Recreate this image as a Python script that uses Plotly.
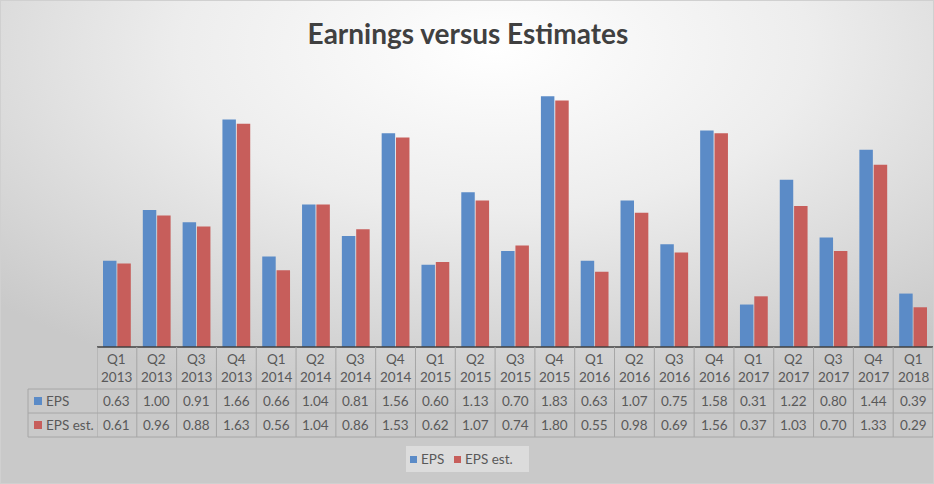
import base64
import plotly.graph_objects as go

quarters = ["Q1", "Q2", "Q3", "Q4", "Q1", "Q2", "Q3", "Q4", "Q1", "Q2", "Q3", "Q4",
            "Q1", "Q2", "Q3", "Q4", "Q1", "Q2", "Q3", "Q4", "Q1"]
years = ["2013", "2013", "2013", "2013", "2014", "2014", "2014", "2014", "2015", "2015", "2015", "2015",
         "2016", "2016", "2016", "2016", "2017", "2017", "2017", "2017", "2018"]
eps = [0.63, 1.00, 0.91, 1.66, 0.66, 1.04, 0.81, 1.56, 0.60, 1.13, 0.70, 1.83,
       0.63, 1.07, 0.75, 1.58, 0.31, 1.22, 0.80, 1.44, 0.39]
eps_est = [0.61, 0.96, 0.88, 1.63, 0.56, 1.04, 0.86, 1.53, 0.62, 1.07, 0.74, 1.80,
           0.55, 0.98, 0.69, 1.56, 0.37, 1.03, 0.70, 1.33, 0.29]
series_names = ["EPS", "EPS est."]

BLUE = "#5B8BC7"
RED = "#C75E5B"
TXT = "#595959"
GRID = "#A6A6A6"
FONT = "Lato"
FS = 13.5

W, H = 934, 484
L, R, T, B = 97, 1, 73, 137
PW, PH = W - L - R, H - T - B
n = len(quarters)
cats = list(range(n))

def py(p):
    return (H - B - p) / PH

def px(p):
    return (p - L) / PW

svg = f"""<svg xmlns='http://www.w3.org/2000/svg' width='{W}' height='{H}'>
<defs><radialGradient id='g' cx='0.53' cy='0.1' r='0.75' gradientUnits='objectBoundingBox'>
<stop offset='0' stop-color='#FFFFFF'/><stop offset='0.45' stop-color='#EDEDED'/>
<stop offset='1' stop-color='#C9C9C9'/></radialGradient></defs>
<rect width='{W}' height='{H}' fill='url(#g)'/>
<rect x='0.5' y='0.5' width='{W-1}' height='{H-1}' fill='none' stroke='#D0D0D0'/>
</svg>"""
bg = "data:image/svg+xml;base64," + base64.b64encode(svg.encode()).decode()

fig = go.Figure()
fig.add_trace(go.Bar(x=cats, y=eps, name=series_names[0], marker=dict(color=BLUE, line=dict(width=0))))
fig.add_trace(go.Bar(x=cats, y=eps_est, name=series_names[1], marker=dict(color=RED, line=dict(width=0))))

shapes = []
annotations = []

y_top, y_h1, y_h2, y_h3 = 347, 389, 413, 437
x_lab = 28

def txt(x, y, s, xref="x", xanchor="center"):
    return dict(x=x, y=y, xref=xref, yref="paper", text=s, showarrow=False,
                xanchor=xanchor, yanchor="middle", font=dict(family=FONT, size=FS, color=TXT))

# horizontal lines
shapes.append(dict(type="line", xref="paper", yref="paper", x0=0, x1=1, y0=py(y_top), y1=py(y_top),
                   line=dict(color="#404040", width=1.6)))
for yy in (y_h1, y_h2, y_h3):
    shapes.append(dict(type="line", xref="paper", yref="paper", x0=px(x_lab), x1=1, y0=py(yy), y1=py(yy),
                       line=dict(color=GRID, width=1)))
# vertical lines
for i in range(n + 1):
    xv = i - 0.5
    shapes.append(dict(type="line", xref="x", yref="paper", x0=xv, x1=xv, y0=py(y_top), y1=py(y_h3),
                       line=dict(color=GRID, width=1)))
shapes.append(dict(type="line", xref="paper", yref="paper", x0=px(x_lab), x1=px(x_lab), y0=py(y_h1), y1=py(y_h3),
                   line=dict(color=GRID, width=1)))

# cell text
for i in range(n):
    annotations.append(txt(i, py(359), quarters[i]))
    annotations.append(txt(i, py(377), years[i]))
    annotations.append(txt(i, py(401), f"{eps[i]:.2f}"))
    annotations.append(txt(i, py(425), f"{eps_est[i]:.2f}"))

for name, col, yc in ((series_names[0], BLUE, 401), (series_names[1], RED, 425)):
    shapes.append(dict(type="rect", xref="paper", yref="paper", x0=px(34), x1=px(42), y0=py(yc + 4), y1=py(yc - 4),
                       fillcolor=col, line=dict(width=0)))
    annotations.append(txt(px(44), py(yc), name, xref="paper", xanchor="left"))

# legend (drawn as a small box below the table)
shapes.append(dict(type="rect", xref="paper", yref="paper", x0=px(406), x1=px(529), y0=py(472), y1=py(446),
                   fillcolor="rgba(255,255,255,0.35)", line=dict(width=0), layer="below"))
for name, col, xs in ((series_names[0], BLUE, 410), (series_names[1], RED, 454)):
    shapes.append(dict(type="rect", xref="paper", yref="paper", x0=px(xs), x1=px(xs + 7), y0=py(463), y1=py(456),
                       fillcolor=col, line=dict(width=0)))
    annotations.append(txt(px(xs + 9), py(459), name, xref="paper", xanchor="left"))

fig.update_layout(
    width=W, height=H,
    margin=dict(l=L, r=R, t=T, b=B, autoexpand=False),
    paper_bgcolor="#DCDCDC",
    plot_bgcolor="rgba(0,0,0,0)",
    images=[dict(source=bg, xref="paper", yref="paper", x=-L / PW, y=1 + T / PH,
                 sizex=W / PW, sizey=H / PH, sizing="stretch", xanchor="left", yanchor="top",
                 layer="below")],
    title=dict(text="<b>Earnings versus Estimates</b>", x=px(468), xanchor="center", xref="paper",
               y=1 - 34 / H, yanchor="middle",
               font=dict(family=FONT, size=28, color="#404040")),
    barmode="group",
    bargap=0.28,
    bargroupgap=0.06,
    xaxis=dict(range=[-0.5, n - 0.5], showticklabels=False, showgrid=False, zeroline=False, showline=False,
               ticks=""),
    yaxis=dict(range=[0, 2], visible=False, showgrid=False, zeroline=False),
    showlegend=False,
    shapes=shapes,
    annotations=annotations,
)

fig.write_html("out.html", config={"displayModeBar": False},
               post_script="document.body.style.margin='0';document.body.style.overflow='hidden';")
